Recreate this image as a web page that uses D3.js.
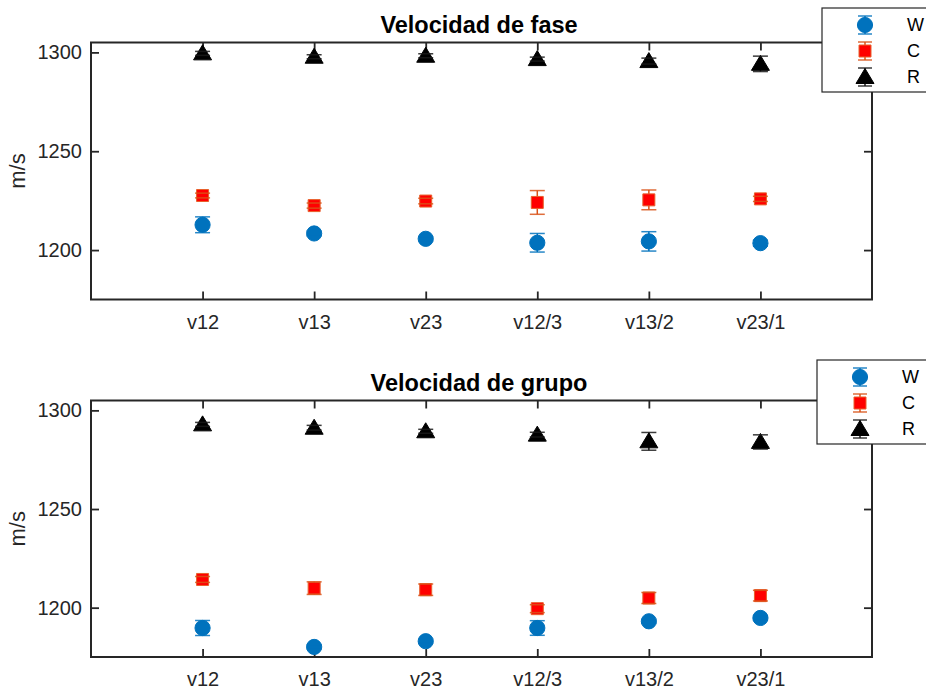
<!DOCTYPE html>
<html>
<head>
<meta charset="utf-8">
<script src="https://cdn.jsdelivr.net/npm/d3@7"></script>
<style>
  html, body { margin: 0; padding: 0; background: #fff; }
  svg { display: block; font-family: "Liberation Sans", Arial, Helvetica, sans-serif; }
</style>
</head>
<body>
<svg id="chart" width="926" height="693"></svg>
<script>
// ---- Data ----
const categories = ["v12", "v13", "v23", "v12/3", "v13/2", "v23/1"];
const yTicks = [1200, 1250, 1300];
const seriesNames = ["W", "C", "R"];

// Velocidad de fase
const faseW    = [1212.8, 1208.4, 1205.7, 1203.7, 1204.4, 1203.5];
const faseWerr = [4.0, 1.2, 1.0, 4.7, 4.9, 1.5];
const faseC    = [1227.6, 1222.5, 1224.8, 1224.1, 1225.4, 1225.9];
const faseCerr = [1.2, 1.3, 1.4, 6.0, 5.0, 1.3];
const faseR    = [1299.5, 1297.8, 1298.3, 1296.6, 1295.6, 1294.2];
const faseRerr = [1.0, 1.0, 1.0, 1.0, 1.5, 3.9];

// Velocidad de grupo
const grupoW    = [1189.7, 1180.1, 1183.0, 1189.7, 1193.1, 1194.8];
const grupoWerr = [3.8, 1.0, 1.0, 3.7, 1.0, 1.0];
const grupoC    = [1214.3, 1209.9, 1209.1, 1199.5, 1204.9, 1206.1];
const grupoCerr = [1.5, 3.2, 2.9, 2.0, 2.8, 2.7];
const grupoR    = [1292.9, 1291.2, 1289.4, 1287.7, 1284.3, 1284.0];
const grupoRerr = [1.0, 1.2, 1.0, 1.2, 4.5, 3.6];

// ---- Styles ----
const styles = {
  W: { shape: "circle",   fill: "#0072BD", stroke: "#0072BD", err: "#0072BD" },
  C: { shape: "square",   fill: "#FF0000", stroke: "#E8602C", err: "#D95319" },
  R: { shape: "triangle", fill: "#000000", stroke: "#000000", err: "#1a1a1a" }
};
const axisColor = "#262626";

const panels = [
  { title: "Velocidad de fase", top: 42.5, bottom: 299.5,
    series: { W: [faseW, faseWerr], C: [faseC, faseCerr], R: [faseR, faseRerr] },
    legend: { x: 822, y: 8, w: 130, h: 84, mx: 865, tx: 907 } },
  { title: "Velocidad de grupo", top: 400.5, bottom: 657,
    series: { W: [grupoW, grupoWerr], C: [grupoC, grupoCerr], R: [grupoR, grupoRerr] },
    legend: { x: 817, y: 360, w: 130, h: 84, mx: 860, tx: 902 } }
];

const left = 91, right = 872;
const svg = d3.select("#chart");

function markerPath(shape) {
  if (shape === "circle") return d3.symbol(d3.symbolCircle, Math.PI * 7.6 * 7.6)();
  if (shape === "square") return "M-6,-6H6V6H-6Z";
  return "M0,-8.5L9,6.5L-9,6.5Z";
}

function drawErr(g, x, yLo, yHi, color) {
  g.append("line").attr("x1", x).attr("x2", x).attr("y1", yLo).attr("y2", yHi)
    .attr("stroke", color).attr("stroke-width", 1.5);
}
function drawCaps(g, x, yLo, yHi, color, cap) {
  [yLo, yHi].forEach(yy => {
    g.append("line").attr("x1", x - cap).attr("x2", x + cap).attr("y1", yy).attr("y2", yy)
      .attr("stroke", color).attr("stroke-width", 1.5).attr("stroke-opacity", 0.85);
  });
}

panels.forEach(p => {
  const x = d3.scaleLinear().domain([0, categories.length + 1]).range([left, right]);
  const y = d3.scaleLinear().domain([1175, 1305]).range([p.bottom, p.top]);
  const g = svg.append("g");

  // Axes
  const ax = g.append("g").attr("transform", `translate(0,${p.bottom})`)
    .call(d3.axisBottom(x).tickValues(d3.range(1, categories.length + 1))
      .tickFormat(i => categories[i - 1]).tickSizeInner(-8).tickSizeOuter(0).tickPadding(15));
  const axTop = g.append("g").attr("transform", `translate(0,${p.top})`)
    .call(d3.axisTop(x).tickValues(d3.range(1, categories.length + 1))
      .tickFormat("").tickSizeInner(-8).tickSizeOuter(0));
  const ay = g.append("g").attr("transform", `translate(${left},0)`)
    .call(d3.axisLeft(y).tickValues(yTicks).tickFormat(d3.format("d"))
      .tickSizeInner(-8).tickSizeOuter(0).tickPadding(9));
  const ayR = g.append("g").attr("transform", `translate(${right},0)`)
    .call(d3.axisRight(y).tickValues(yTicks).tickFormat("")
      .tickSizeInner(-8).tickSizeOuter(0));
  [ax, axTop, ay, ayR].forEach(a => {
    a.select(".domain").remove();
    a.selectAll(".tick line").attr("stroke", axisColor).attr("stroke-width", 1.8);
    a.selectAll(".tick text").attr("fill", axisColor).attr("font-size", 20)
      .attr("font-family", "Liberation Sans, Arial, sans-serif");
  });
  g.append("rect").attr("x", left).attr("y", p.top).attr("width", right - left)
    .attr("height", p.bottom - p.top).attr("fill", "none")
    .attr("stroke", axisColor).attr("stroke-width", 2);

  // Y label
  g.append("text").attr("transform", `translate(25,${(p.top + p.bottom) / 2}) rotate(-90)`)
    .attr("text-anchor", "middle").attr("font-size", 22).attr("fill", axisColor).text("m/s");

  // Title
  g.append("text").attr("x", 479).attr("y", p.top - 9.5)
    .attr("text-anchor", "middle").attr("font-size", 23.5).attr("font-weight", "bold")
    .attr("fill", "#000").text(p.title);

  // Series
  seriesNames.forEach(name => {
    const [vals, errs] = p.series[name];
    const st = styles[name];
    const sg = g.append("g");
    vals.forEach((v, i) => {
      const cx = x(i + 1), lo = y(v - errs[i]), hi = y(v + errs[i]);
      drawErr(sg, cx, lo, hi, st.err);
      sg.append("path").attr("d", markerPath(st.shape))
        .attr("transform", `translate(${cx},${y(v)})`)
        .attr("fill", st.fill).attr("stroke", st.stroke).attr("stroke-width", 1);
      drawCaps(sg, cx, lo, hi, st.err, 7.5);
    });
  });

  // Legend
  const L = p.legend;
  const lg = svg.append("g");
  lg.append("rect").attr("x", L.x).attr("y", L.y).attr("width", L.w).attr("height", L.h)
    .attr("fill", "#fff").attr("stroke", axisColor).attr("stroke-width", 1.2);
  seriesNames.forEach((name, k) => {
    const st = styles[name];
    const cy = L.y + 17 + k * 26;
    drawErr(lg, L.mx, cy - 9, cy + 9, st.err);
    lg.append("path").attr("d", markerPath(st.shape))
      .attr("transform", `translate(${L.mx},${cy})`)
      .attr("fill", st.fill).attr("stroke", st.stroke).attr("stroke-width", 1);
    drawCaps(lg, L.mx, cy - 9, cy + 9, st.err, 7);
    lg.append("text").attr("x", L.tx).attr("y", cy).attr("dy", "0.35em")
      .attr("font-size", 18).attr("fill", "#000").text(name);
  });
});
</script>
</body>
</html>
